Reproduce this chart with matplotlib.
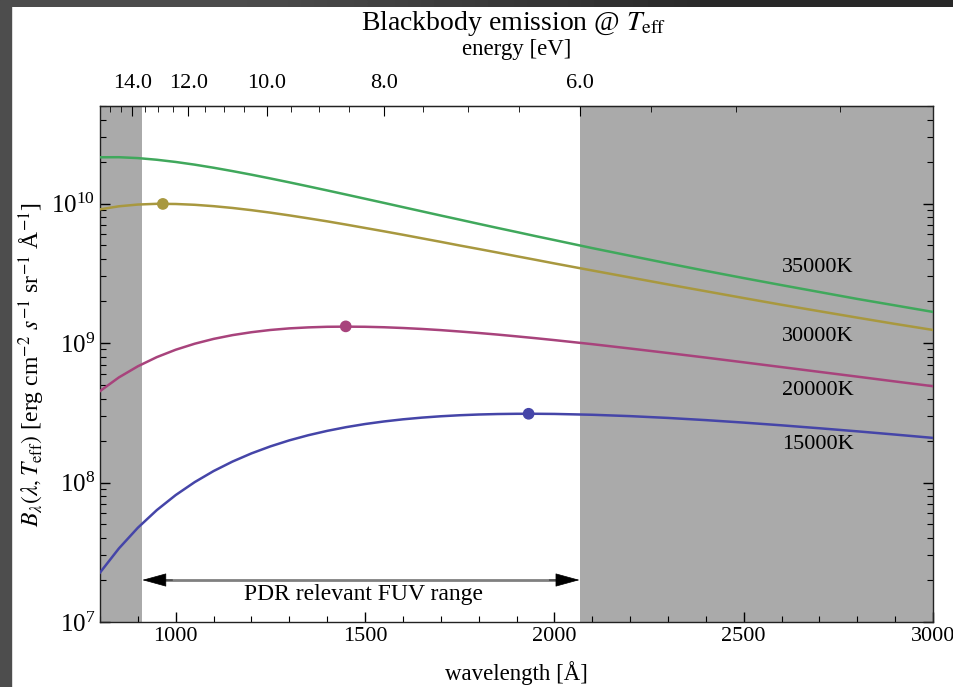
import matplotlib
matplotlib.use('Agg')
import matplotlib.pyplot as plt
from matplotlib.patches import Rectangle
from matplotlib.ticker import FixedLocator, LogLocator, NullFormatter
import numpy as np

plt.rcParams['font.family'] = ['Liberation Serif', 'DejaVu Serif']
plt.rcParams['mathtext.fontset'] = 'stix'

# wavelength grid [Angstrom] and blackbody intensities
wavelength = [800, 850, 900, 950, 1000, 1050, 1100, 1150, 1200, 1250, 1300, 1350,
              1400, 1450, 1500, 1550, 1600, 1650, 1700, 1750, 1800, 1850, 1900,
              1950, 2000, 2100, 2200, 2300, 2400, 2500, 2600, 2700, 2800, 2900, 3000]
b_35000 = [2.145e10, 2.147e10, 2.116e10, 2.059e10, 1.985e10, 1.899e10, 1.805e10, 1.707e10,
           1.609e10, 1.512e10, 1.418e10, 1.327e10, 1.241e10, 1.159e10, 1.082e10, 1.010e10,
           9.42e9, 8.79e9, 8.20e9, 7.66e9, 7.15e9, 6.68e9, 6.25e9, 5.84e9,
           5.47e9, 4.79e9, 4.22e9, 3.72e9, 3.29e9, 2.92e9, 2.60e9, 2.32e9,
           2.07e9, 1.86e9, 1.67e9]
b_30000 = [9.08e9, 9.55e9, 9.83e9, 9.95e9, 9.92e9, 9.79e9, 9.57e9, 9.29e9,
           8.96e9, 8.60e9, 8.22e9, 7.83e9, 7.45e9, 7.06e9, 6.68e9, 6.32e9,
           5.97e9, 5.63e9, 5.31e9, 5.00e9, 4.72e9, 4.45e9, 4.19e9, 3.95e9,
           3.72e9, 3.31e9, 2.95e9, 2.63e9, 2.35e9, 2.10e9, 1.88e9, 1.69e9,
           1.52e9, 1.37e9, 1.24e9]
b_20000 = [4.52e8, 5.67e8, 6.81e8, 7.92e8, 8.95e8, 9.88e8, 1.070e9, 1.139e9,
           1.195e9, 1.240e9, 1.273e9, 1.294e9, 1.307e9, 1.310e9, 1.307e9, 1.297e9,
           1.281e9, 1.261e9, 1.237e9, 1.209e9, 1.180e9, 1.149e9, 1.116e9, 1.083e9,
           1.049e9, 9.81e8, 9.13e8, 8.48e8, 7.86e8, 7.27e8, 6.72e8, 6.21e8,
           5.74e8, 5.30e8, 4.90e8]
b_15000 = [2.26e7, 3.37e7, 4.74e7, 6.34e7, 8.13e7, 1.006e8, 1.208e8, 1.413e8,
           1.617e8, 1.815e8, 2.005e8, 2.182e8, 2.345e8, 2.493e8, 2.625e8, 2.739e8,
           2.837e8, 2.918e8, 2.984e8, 3.035e8, 3.072e8, 3.096e8, 3.108e8, 3.109e8,
           3.101e8, 3.059e8, 2.991e8, 2.903e8, 2.800e8, 2.688e8, 2.570e8, 2.448e8,
           2.327e8, 2.206e8, 2.088e8]

temps = ['35000K', '30000K', '20000K', '15000K']
curves = [b_35000, b_30000, b_20000, b_15000]
colors = ['#40a85c', '#a8983f', '#a8437c', '#4545a8']

# peak markers (30000K, 20000K, 15000K)
peak_wl = [966, 1449, 1932]
peak_b = [9.93e9, 1.316e9, 3.11e8]
peak_colors = ['#a8983f', '#a8437c', '#4545a8']

# temperature label positions
label_wl = [2695, 2695, 2695, 2695]
label_b = [3.5e9, 1.11e9, 4.6e8, 1.86e8]

# energy axis
HC = 12398.42  # eV * Angstrom
major_ev = [14.0, 12.0, 10.0, 8.0, 6.0]
minor_ev = [15.5, 15.0, 14.5, 13.5, 13.0, 12.5, 11.5, 11.0, 10.5, 9.5, 9.0, 8.5,
            7.5, 7.0, 6.5, 5.5, 5.0, 4.5]

# FUV range 6 - 13.6 eV
fuv_lo = HC / 13.6
fuv_hi = HC / 6.0

fig = plt.figure(figsize=(9.54, 6.87), dpi=100)
ax = fig.add_axes([100 / 954, 65 / 687, 833 / 954, 516 / 687])

ax.axvspan(800, fuv_lo, color='#aaaaaa', lw=0, zorder=0)
ax.axvspan(fuv_hi, 3000, color='#aaaaaa', lw=0, zorder=0)

for name, vals, c in zip(temps, curves, colors):
    ax.plot(wavelength, vals, color=c, lw=1.8, zorder=3)
ax.scatter(peak_wl, peak_b, s=55, c=peak_colors, zorder=4)

for name, x, y in zip(temps, label_wl, label_b):
    ax.text(x, y, name, ha='center', va='center', fontsize=16)

# arrow for the PDR range
ax.plot([fuv_lo + 60, fuv_hi - 60], [2e7, 2e7], color='#808080', lw=2, zorder=2)
for tip, tail in [(fuv_lo, fuv_lo + 80), (fuv_hi, fuv_hi - 80)]:
    ax.annotate('', xy=(tip, 2e7), xytext=(tail, 2e7),
                arrowprops=dict(arrowstyle='-|>,head_length=0.8,head_width=0.22',
                                mutation_scale=20, color='black', lw=0.5,
                                shrinkA=0, shrinkB=0), zorder=3)
ax.text(1495, 1.58e7, 'PDR relevant FUV range', ha='center', va='center', fontsize=17)

ax.set_yscale('log')
ax.set_xlim(800, 3000)
ax.set_ylim(1e7, 5e10)

ax.set_xticks([1000, 1500, 2000, 2500, 3000])
ax.xaxis.set_minor_locator(FixedLocator(np.arange(800, 3001, 100)))
ax.yaxis.set_major_locator(LogLocator(base=10, numticks=10))
ax.yaxis.set_minor_locator(LogLocator(base=10, subs=np.arange(2, 10), numticks=50))
ax.yaxis.set_minor_formatter(NullFormatter())
ax.tick_params(which='both', direction='in', top=False, right=True)
ax.tick_params(axis='x', labelsize=16)
ax.tick_params(axis='y', labelsize=18)
ax.tick_params(which='major', length=7, width=1)
ax.tick_params(which='minor', length=4, width=0.8)
for s in ax.spines.values():
    s.set_color('#222222')
    s.set_linewidth(1)

ax.set_xlabel('wavelength [Å]', fontsize=16.5, labelpad=11)
ax.set_ylabel(r'$B_\lambda(\lambda, T_{\mathrm{eff}})$ [erg cm$^{-2}$ $s^{-1}$ sr$^{-1}$ Å$^{-1}$]',
              fontsize=17, labelpad=3)


def lam_to_ev(x):
    x = np.asarray(x, dtype=float)
    with np.errstate(divide='ignore'):
        return HC / x


secax = ax.secondary_xaxis('top', functions=(lam_to_ev, lam_to_ev))
secax.xaxis.set_major_locator(FixedLocator(major_ev))
secax.xaxis.set_minor_locator(FixedLocator(minor_ev))
secax.set_xticklabels(['%.1f' % e for e in major_ev])
secax.tick_params(which='both', direction='in', labelsize=16, pad=9)
secax.tick_params(which='major', length=7)
secax.tick_params(which='minor', length=4)
secax.set_xlabel('energy [eV]', fontsize=16.5, labelpad=14)

fig.text(514 / 954, 1 - 23 / 687, r'Blackbody emission @ $T_{\mathrm{eff}}$',
         ha='center', va='center', fontsize=20)

# dark screenshot border
fig.patches.append(Rectangle((0, 0), 11 / 954, 1, transform=fig.transFigure,
                             color='#4d4d4d', zorder=10))
top_ax = fig.add_axes([0, 1 - 7 / 687, 1, 7 / 687])
top_ax.imshow(np.array([[0.30, 0.16]]), cmap='gray', vmin=0, vmax=1,
              aspect='auto', interpolation='bilinear')
top_ax.axis('off')

fig.savefig('out.png', dpi=100)
plt.close(fig)
